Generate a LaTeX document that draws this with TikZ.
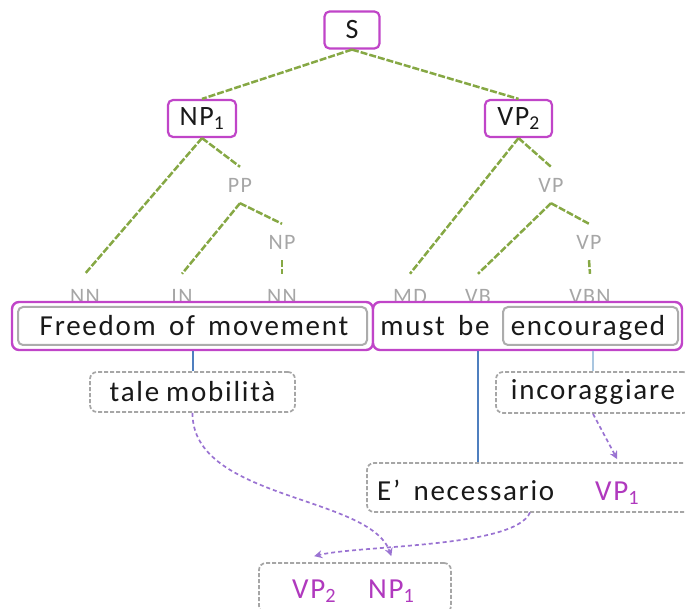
\documentclass[tikz,border=0pt]{standalone}
\usepackage{fontspec}
\setmainfont{Carlito}[LetterSpace=6,WordSpace=1.6]
\usetikzlibrary{arrows.meta}
\definecolor{treegreen}{HTML}{86A844}
\definecolor{boxmag}{HTML}{C045C8}
\definecolor{labgray}{HTML}{A6A6A6}
\definecolor{linkblue}{HTML}{4F7FBF}
\definecolor{paleblue}{HTML}{A9C6E0}
\definecolor{arrowpurple}{HTML}{9A73D2}
\definecolor{textmag}{HTML}{B039BE}
\begin{document}
\begin{tikzpicture}[x=1pt,y=-1pt,
  catbox/.style={draw=boxmag, line width=2.2pt, rounded corners=5pt, fill=white,
    font=\fontsize{28}{30}\selectfont, text=black!90, minimum height=37pt, inner sep=0pt},
  tag/.style={text=labgray, font=\fontsize{22}{24}\selectfont, minimum height=36pt, inner sep=0pt},
  lowtag/.style={tag, minimum height=44pt},
  branch/.style={draw=treegreen, line width=2.5pt, dash pattern=on 7pt off 2pt},
  word/.style={font=\fontsize{29}{31}\selectfont, text=black!90, inner sep=0pt, anchor=base},
  phrase/.style={draw=boxmag, line width=2.4pt, rounded corners=7pt, fill=white},
  chunk/.style={draw=gray!65, line width=2pt, rounded corners=5pt},
  gloss/.style={draw=gray!70, line width=1.7pt, dash pattern=on 4pt off 2pt, rounded corners=7pt,
    fill=white, font=\fontsize{29}{31}\selectfont, text=black!90, inner sep=0pt},
  slot/.style={word, text=textmag, anchor=base west},
  link/.style={draw=linkblue, line width=2pt},
  move/.style={draw=arrowpurple, line width=1.7pt, dash pattern=on 4pt off 3pt,
    -{Stealth[length=8pt,width=8pt]}}]
\useasboundingbox (0,0) rectangle (685,609);
\clip (0,0) rectangle (685,609);

% constituent boxes
\node[catbox, minimum width=55pt] (S) at (352,30) {S};
\node[catbox, minimum width=68pt] (NP) at (202,118.5) {NP\textsubscript{1}};
\node[catbox, minimum width=67pt] (VP) at (518.5,118.5) {VP\textsubscript{2}};

% inner categories and POS tags
\node[tag] (PP)  at (240,185) {PP};
\node[tag] (NPb) at (282,242) {NP};
\node[tag] (VPa) at (551,185) {VP};
\node[tag] (VPb) at (589,242) {VP};
\node[lowtag] (NNa) at (85,296)  {NN};
\node[lowtag] (IN)  at (182,296) {IN};
\node[lowtag] (NNb) at (282,296) {NN};
\node[lowtag] (MD)  at (410,296) {MD};
\node[lowtag] (VB)  at (478,296) {VB};
\node[lowtag] (VBN) at (590,296) {VBN};

% tree branches
\draw[branch] (S.south) -- (NP.north);
\draw[branch] (S.south) -- (VP.north);
\draw[branch] (NP.south) -- (NNa.north);
\draw[branch] (NP.south) -- (PP.north);
\draw[branch] (PP.south) -- (IN.north);
\draw[branch] (PP.south) -- (NPb.north);
\draw[branch] (NPb.south) -- (NNb.north);
\draw[branch] (VP.south) -- (MD.north);
\draw[branch] (VP.south) -- (VPa.north);
\draw[branch] (VPa.south) -- (VB.north);
\draw[branch] (VPa.south) -- (VPb.north);
\draw[branch] (VPb.south) -- (VBN.north);

% source sentence
\node[phrase, minimum width=361pt, minimum height=48pt] (ph1) at (192.5,326) {};
\node[chunk, minimum width=349pt, minimum height=38pt] (ch1) at (192.5,326) {};
\node[phrase, minimum width=309pt, minimum height=48pt] (ph2) at (527.5,326) {};
\node[chunk, minimum width=175pt, minimum height=38pt] (ch2) at (590.5,326) {};
\node[word] (w1) at (194,336) {Freedom of movement};
\node[word] (w2) at (435,336) {must be};
\node[word] (w3) at (588,336) {encouraged};

% target fragments
\node[gloss, minimum width=205pt, minimum height=40pt] (g1) at (192.5,392) {\mbox{tale}\kern7pt\mbox{mobilità}};
\node[gloss, minimum width=194pt, minimum height=41pt] (g2) at (593,392.5) {incoraggiare};
\node[gloss, minimum width=353pt, minimum height=49pt] (g3) at (543.5,487.5) {};
\node[word, anchor=base west] (en) at (377,500) {E’ necessario};
\node[slot] (vp1) at (595,500) {VP\textsubscript{1}};
\node[gloss, minimum width=192pt, minimum height=50pt] (g4) at (355,588) {};
\node[slot] (vp2) at (292,598) {VP\textsubscript{2}};
\node[slot] (np1) at (368,598) {NP\textsubscript{1}};

% word alignments
\draw[link] (g1.north) -- (g1.north |- ph1.south);
\draw[link] (VB |- g3.north) -- (VB |- ph2.south);
\draw[link, draw=paleblue] (g2.north) -- (g2.north |- ph2.south);

% substitutions
\coordinate (s2) at (530,512.5);
\coordinate (t1) at ([yshift=6pt]g4.north -| np1.center);
\coordinate (t2) at ([yshift=6pt]g4.north -| vp2.center);
\coordinate (t3) at ([yshift=3pt]g3.north -| vp1.center);
\draw[move] (g1.south) .. controls (192,500) and (370,495) .. (t1);
\draw[move] (s2) .. controls (515,548) and (360,545) .. (t2);
\draw[move] (g2.south) -- (t3);
\end{tikzpicture}
\end{document}
